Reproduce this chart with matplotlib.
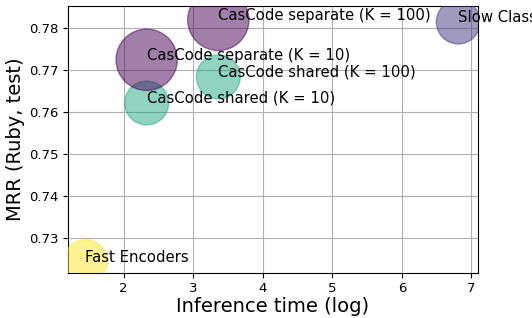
import numpy as np
import matplotlib
matplotlib.use("Agg")
import matplotlib.pyplot as plt

labels = ["Fast Encoders", "CasCode shared (K = 10)", "CasCode separate (K = 10)",
          "CasCode shared (K = 100)", "CasCode separate (K = 100)", "Slow Classifiers"]
inference_time = [1.45, 2.33, 2.33, 3.36, 3.36, 6.81]
mrr = [0.7243, 0.7621, 0.7724, 0.7683, 0.7819, 0.7814]
sizes = [1000, 1000, 1950, 1000, 1950, 1000]
color_vals = [1.0, 0.6, 0.0, 0.6, 0.0, 0.15]

fig, ax = plt.subplots(figsize=(5.32, 3.18), dpi=100)
fig.subplots_adjust(left=0.128, right=0.898, top=0.981, bottom=0.143)

colors = plt.cm.viridis(np.array(color_vals))
ax.scatter(inference_time, mrr, s=sizes, c=colors, alpha=0.5, zorder=3)
for x, y, lab in zip(inference_time, mrr, labels):
    ax.text(x, y, lab, fontsize=10.7, zorder=4, clip_on=False)

ax.grid(True, color="#b0b0b0", linewidth=0.8, zorder=0)
ax.set_axisbelow(True)
ax.set_xlim(1.2, 7.09)
ax.set_ylim(0.7217, 0.7852)
ax.set_yticks([0.73, 0.74, 0.75, 0.76, 0.77, 0.78])
ax.tick_params(labelsize=9.5)
ax.set_xlabel("Inference time (log)", fontsize=14, labelpad=1)
ax.set_ylabel("MRR (Ruby, test)", fontsize=14, labelpad=3)

fig.savefig("out.png", dpi=100)
